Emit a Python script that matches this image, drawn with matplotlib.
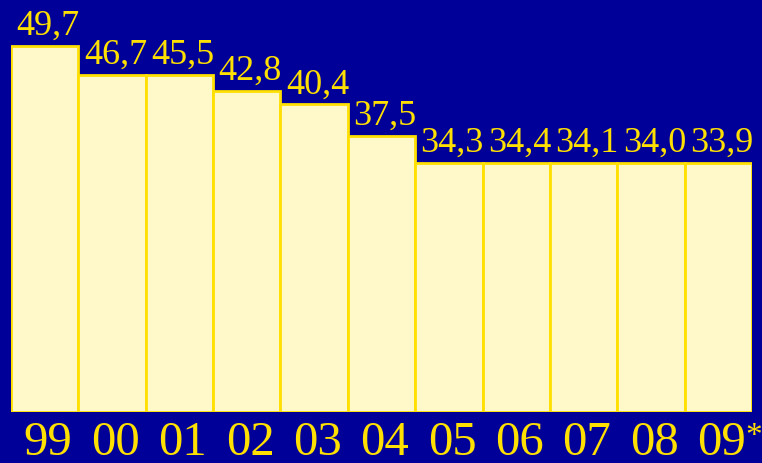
import matplotlib.pyplot as plt

years = ['99', '00', '01', '02', '03', '04', '05', '06', '07', '08', '09']
value_labels = ['49,7', '46,7', '45,5', '42,8', '40,4', '37,5', '34,3', '34,4', '34,1', '34,0', '33,9']
# bar heights as drawn in the picture (the original bars are not exactly to scale)
bar_heights = [49.7, 45.8, 45.8, 43.6, 41.8, 37.5, 33.8, 33.8, 33.8, 33.8, 33.8]

bg = '#000099'
gold = '#FFE000'
fill = '#FFF8C8'

plt.rcParams['font.family'] = ['Liberation Serif', 'DejaVu Serif']

fig = plt.figure(figsize=(7.62, 4.64), dpi=100, facecolor=bg)
ax = fig.add_axes([11 / 762, 51 / 464, 741 / 762, 413 / 464])
ax.set_facecolor(bg)

x = list(range(len(years)))
ax.bar(x, bar_heights, width=1.0, color=fill, edgecolor=gold, linewidth=2)

for xi, h, lab in zip(x, bar_heights, value_labels):
    ax.text(xi + 0.05, h + 1.63, lab, ha='center', va='baseline', color=gold, fontsize=26)

ax.set_xlim(-0.5, len(years) - 0.5)
ax.set_ylim(0, 56.1)
ax.set_xticks([xi + 0.05 for xi in x])
ax.set_xticklabels(years, fontsize=35, color=gold)
ax.tick_params(axis='x', length=0, pad=6)
ax.set_yticks([])
for s in ax.spines.values():
    s.set_visible(False)

# asterisk on the last year label
ax.text(len(years) - 0.5 + 0.03, -0.02, '*', transform=ax.get_xaxis_transform(),
        ha='center', va='top', color=gold, fontsize=24)

plt.savefig('out.png', dpi=100, facecolor=bg)
